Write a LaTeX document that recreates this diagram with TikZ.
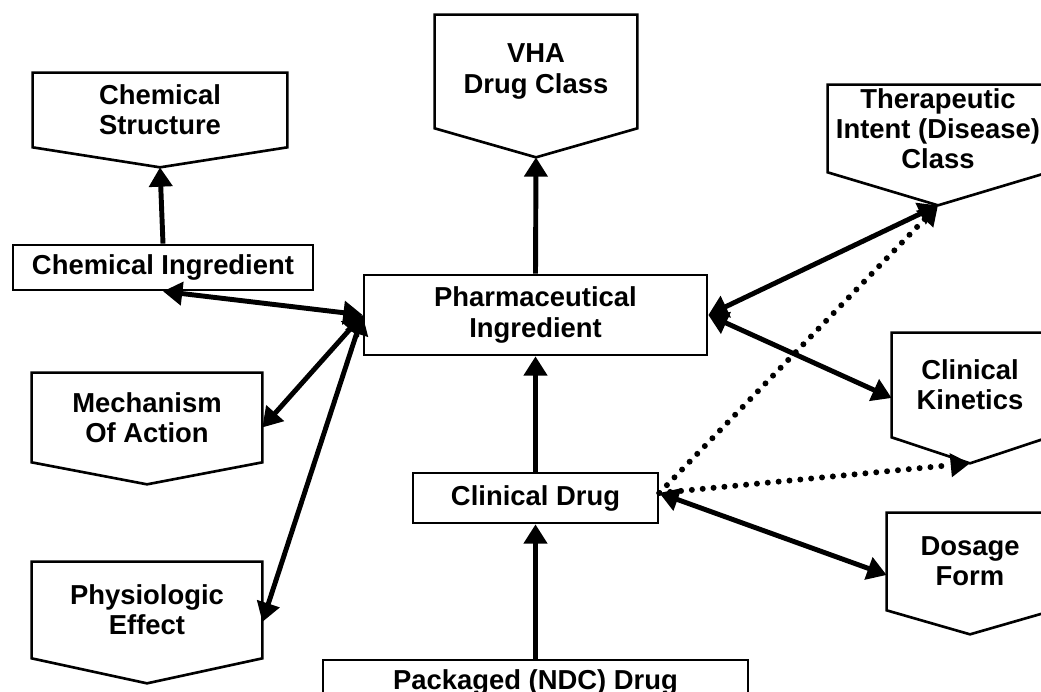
\documentclass[tikz,border=0pt]{standalone}
\usepackage{fontspec}
\setmainfont{Liberation Sans}
\usepackage{tikz}
\usetikzlibrary{arrows.meta, calc}
\tikzset{
    box/.style={rectangle, draw, line width=1.5pt, inner sep=0pt, align=center,
        font=\fontsize{15.6}{17.2}\selectfont\bfseries},
    classbox/.style={rectangle, inner sep=0pt, align=center,
        font=\fontsize{15.6}{17.2}\selectfont\bfseries},
    arrow/.style={->, >={Triangle[length=11pt,width=13pt]}, line width=2.8pt},
    link/.style={arrow, <->},
    dotarrow/.style={arrow, line width=3.4pt, line cap=round, dash pattern=on 0pt off 6.2pt}
}

\begin{document}
\begin{tikzpicture}
    \useasboundingbox (0,0) rectangle (20.82,13.84);
    \clip (0,0) rectangle (20.82,13.84);

    % class boxes (pointed at the bottom)
    \node[classbox, minimum width=5.08cm, minimum height=1.48cm] (chemstruct) at (3.2,11.64) {Chemical\\Structure};
    \node[classbox, minimum width=4.04cm, minimum height=2.26cm] (vha) at (10.72,12.41) {VHA\\Drug Class};
    \node[classbox, minimum width=4.4cm, minimum height=1.74cm] (therap) at (18.76,11.27) {Therapeutic\\Intent (Disease)\\Class};
    \node[classbox, minimum width=4.6cm, minimum height=1.78cm] (mech) at (2.94,5.49) {Mechanism\\Of Action};
    \node[classbox, minimum width=3.12cm, minimum height=2.08cm] (kinetics) at (19.4,6.14) {Clinical\\Kinetics};
    \node[classbox, minimum width=3.32cm, minimum height=1.94cm] (dosage) at (19.4,2.61) {Dosage\\Form};
    \node[classbox, minimum width=4.6cm, minimum height=1.92cm] (physeff) at (2.94,1.64) {Physiologic\\Effect};

    \foreach \n/\d in {chemstruct/0.40, vha/0.58, therap/0.66, mech/0.44, kinetics/0.52, dosage/0.48, physeff/0.5}
        \draw[line width=1.5pt] (\n.north west) -- (\n.north east) -- (\n.south east)
            -- ($(\n.south)+(0,-\d)$) coordinate (\n-tip) -- (\n.south west) -- cycle;

    % drug boxes
    \node[box, minimum width=6cm, minimum height=0.9cm] (chemingr) at (3.26,8.49) {Chemical Ingredient};
    \node[box, minimum width=6.86cm, minimum height=1.6cm] (pharm) at (10.71,7.54) {Pharmaceutical\\Ingredient};
    \node[box, minimum width=4.9cm, minimum height=1cm] (clindrug) at (10.71,3.88) {Clinical Drug};
    \node[box, minimum width=8.5cm, minimum height=0.88cm] (pkgdrug) at (10.71,0.2) {Packaged (NDC) Drug};

    \draw[arrow] (chemingr.north) -- (chemstruct-tip);
    \draw[arrow] (pharm.north) -- (vha-tip);
    \draw[arrow] (clindrug.north) -- (pharm.south);
    \draw[arrow] (pkgdrug.north) -- (clindrug.south);

    \draw[link] (chemingr.south) -- (pharm.west);
    \draw[link] (pharm.west) -- ([yshift=-0.2cm]mech.east);
    \draw[link] (pharm.west) -- ([yshift=-0.24cm]physeff.east);
    \draw[link] (pharm.east) -- (therap-tip);
    \draw[link] (pharm.east) -- ([yshift=-0.26cm]kinetics.west);
    \draw[link] ([yshift=0.1cm]clindrug.east) -- ([yshift=-0.27cm]dosage.west);

    \draw[dotarrow] ([yshift=0.1cm]clindrug.east) -- (therap-tip);
    \draw[dotarrow] ([yshift=0.1cm]clindrug.east) -- (kinetics-tip);
\end{tikzpicture}
\end{document}
